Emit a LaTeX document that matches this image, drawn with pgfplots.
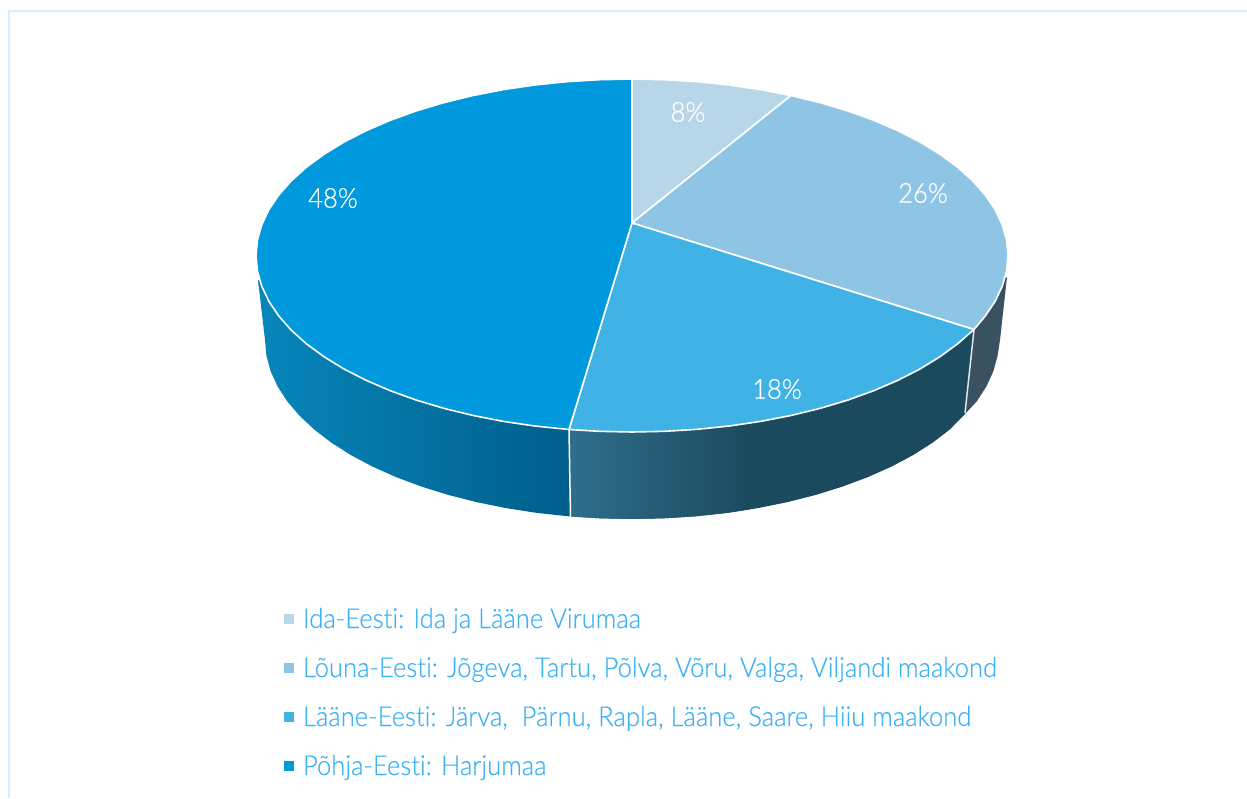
\documentclass[border=0pt]{standalone}
\usepackage{pgfplots}
\pgfplotsset{compat=1.18}
\usepackage{fontspec}
\setmainfont{Lato}[UprightFont=* Light,FakeStretch=0.93,FakeBold=0.35,Ligatures=NoCommon]
\definecolor{sliceA}{HTML}{B7D7E8}
\definecolor{sliceB}{HTML}{8EC5E5}
\definecolor{sliceC}{HTML}{40B2E6}
\definecolor{sliceD}{HTML}{0099DE}
\definecolor{legtext}{HTML}{3DB2F5}
\definecolor{frameblue}{HTML}{D4EEFB}
\begin{document}
\begin{tikzpicture}
\path[use as bounding box] (0,0) rectangle (1247pt,798pt);
\begin{axis}[
  scale only axis, width=1247pt, height=798pt,
  xmin=0, xmax=1247, ymin=0, ymax=798, y dir=reverse,
  hide axis, no markers,
  legend cell align=left,
  legend style={at={(axis cs:284,607)}, anchor=north west, draw=none, fill=none,
    font=\fontsize{27.5}{27.5}\selectfont\color{legtext},
    row sep=22pt, column sep=9pt, inner sep=0pt, outer sep=0pt,
    nodes={text height=21pt, text depth=6pt, inner xsep=0pt, inner ysep=0pt, outer sep=0pt},
  },
  legend image code/.code={\fill[#1, draw=none] (0pt,-3.5pt) rectangle (10pt,6.5pt);},
  legend columns=1,
]
% frame
\addplot[forget plot, color=frameblue, line width=2pt] coordinates {(8.5,798)(8.5,10.5)(1247,10.5)};
% side faces
\addplot[forget plot, draw=none, shade, left color={rgb,255:red,7;green,134;blue,187}, right color={rgb,255:red,0;green,94;blue,139}]
 coordinates {(258,280)(265,340)(266.4,355.6)(270.6,371.1)(277.5,386.3)(287.1,401.2)(299.4,415.6)(314.2,429.5)(331.4,442.7)(350.9,455.1)(372.5,466.6)(396.1,477.1)(421.5,486.6)(448.5,495)(476.9,502.2)(506.5,508.2)(537,512.9)(570.5,516.5)(570,425)(569,400)} --cycle;
\addplot[forget plot, draw=none, fill={rgb,255:red,27;green,74;blue,94}]
 coordinates {(570,425)(570.5,516.5)(600,518.3)(632,519)(664,518.3)(695.7,516.3)(727,512.9)(757.5,508.2)(787.1,502.2)(815.5,495)(842.5,486.6)(867.9,477.1)(891.5,466.6)(913.1,455.1)(932.6,442.7)(949.8,429.5)(965,414)(974,329.5)} --cycle;
\addplot[forget plot, draw=none, shade, left color={rgb,255:red,47;green,110;blue,140}, right color={rgb,255:red,27;green,74;blue,94}]
 coordinates {(570,425)(570.5,516.5)(600,518.3)(632,519)(664,518.3)(695.7,516.3)(727,512.9)(750,509.3)(750,420)} --cycle;
\addplot[forget plot, draw=none, fill={rgb,255:red,58;green,81;blue,97}]
 coordinates {(974,329.5)(965,414)(976.9,401.2)(986.5,386.3)(993.4,371.1)(997.6,355.6)(1000,340)(1007,277)(974,300)} --cycle;
% seams
\addplot[forget plot, color=white, line width=1.5pt] coordinates {(569,429.5)(570.5,517)};
\addplot[forget plot, color=white!80!gray, line width=1.5pt] coordinates {(974,329.5)(965,413)};
% top slices
\addplot[forget plot, draw=white, line width=1.6pt, fill=sliceA, line join=round]
 coordinates {(632,223)(632,79)(664.8,79.7)(697.3,81.7)(729.3,85)(760.6,89.6)(790.9,95.5)} --cycle;
\addplot[forget plot, draw=white, line width=1.6pt, fill=sliceB, line join=round]
 coordinates {(632,223)(790.9,95.5)(820,102.6)(847.7,110.9)(873.7,120.3)(897.9,130.7)(920,142)(940,154.3)(957.6,167.2)(972.8,180.9)(985.3,195.1)(995.2,209.8)(1002.3,224.9)(1006.6,240.1)(1008,255.5)(1006.6,270.9)(1002.3,286.1)(995.2,301.2)(985.3,315.9)(974,329.5)} --cycle;
\addplot[forget plot, draw=white, line width=1.6pt, fill=sliceC, line join=round]
 coordinates {(632,223)(974,329.5)(957.6,343.8)(940,356.7)(920,369)(897.9,380.3)(873.7,390.7)(847.7,400.1)(820,408.4)(790.9,415.5)(760.6,421.4)(729.3,426)(697.3,429.3)(664.8,431.3)(632,432)(599.2,431.3)(569,429.5)} --cycle;
\addplot[forget plot, draw=white, line width=1.6pt, fill=sliceD, line join=round]
 coordinates {(632,223)(569,429.5)(534.7,426)(503.4,421.4)(473.1,415.5)(444,408.4)(416.3,400.1)(390.3,390.7)(366.1,380.3)(344,369)(324,356.7)(306.4,343.8)(291.2,330.1)(278.7,315.9)(268.8,301.2)(261.7,286.1)(257.4,270.9)(256,255.5)(257.4,240.1)(261.7,224.9)(268.8,209.8)(278.7,195.1)(291.2,180.9)(306.4,167.2)(324,154.3)(344,142)(366.1,130.7)(390.3,120.3)(416.3,110.9)(444,102.6)(473.1,95.5)(503.4,89.6)(534.7,85)(566.7,81.7)(599.2,79.7)(632,79)} --cycle;
% labels
\node[white, font=\fontsize{27.5}{27.5}\selectfont] at (axis cs:688,112) {8\%};
\node[white, font=\fontsize{27.5}{27.5}\selectfont] at (axis cs:923,193) {26\%};
\node[white, font=\fontsize{27.5}{27.5}\selectfont] at (axis cs:777,389) {18\%};
\node[white, font=\fontsize{27.5}{27.5}\selectfont] at (axis cs:333,198) {48\%};
% legend
\addlegendimage{fill=sliceA}\addlegendentry{Ida-Eesti: Ida ja Lääne Virumaa}
\addlegendimage{fill=sliceB}\addlegendentry{Lõuna-Eesti: Jõgeva, Tartu, Põlva, Võru, Valga, Viljandi maakond}
\addlegendimage{fill=sliceC}\addlegendentry{Lääne-Eesti: Järva,\ \ Pärnu, Rapla, Lääne, Saare, Hiiu maakond}
\addlegendimage{fill=sliceD}\addlegendentry{Põhja-Eesti: Harjumaa}
\end{axis}
\end{tikzpicture}
\end{document}
